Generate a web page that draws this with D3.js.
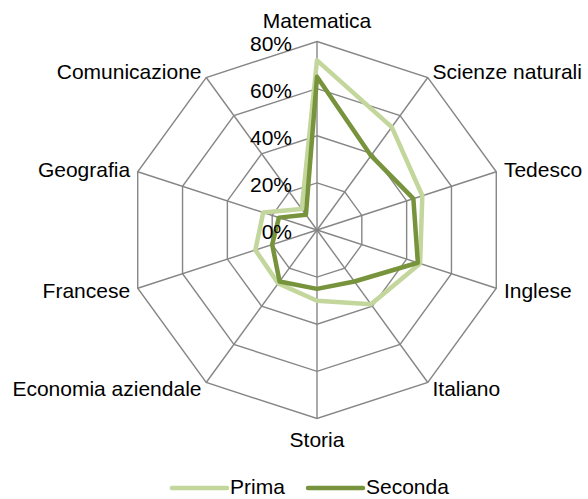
<!DOCTYPE html>
<html>
<head>
<meta charset="utf-8">
<script src="https://cdn.jsdelivr.net/npm/d3@7"></script>
<style>
  body { margin: 0; background: #fff; }
  text { font-family: "Liberation Sans", Arial, sans-serif; font-size: 21px; fill: #000; }
</style>
</head>
<body>
<div class="container"></div>
<script>
// data
const subjects = ['Matematica', 'Scienze naturali', 'Tedesco', 'Inglese', 'Italiano',
                  'Storia', 'Economia aziendale', 'Francese', 'Geografia', 'Comunicazione'];
const prima = [72, 54, 47, 46, 39, 30, 28, 27.5, 24, 11];
const seconda = [65, 39, 43, 45, 27, 25, 27, 20, 17, 8];
const ticks = [0, 20, 40, 60, 80];
const seriesNames = ['Prima', 'Seconda'];
const seriesColors = ['#c3d69b', '#77933c'];

const width = 588;
const height = 499;
const cx = 317;
const cy = 230;
const R = 188.5;

const svg = d3.select('.container')
    .append('svg')
    .attr('width', width)
    .attr('height', height);

const r = d3.scaleLinear().domain([0, 80]).range([0, R]);
const angle = d3.scalePoint().domain(subjects).range([0, 2 * Math.PI * (subjects.length - 1) / subjects.length]);

const pt = (subj, v) => {
    const a = angle(subj);
    return [cx + r(v) * Math.sin(a), cy - r(v) * Math.cos(a)];
};

// grid rings
ticks.filter(t => t > 0).forEach(t => {
    svg.append('polygon')
        .attr('points', subjects.map(s => pt(s, t).join(',')).join(' '))
        .attr('fill', 'none')
        .attr('stroke', '#868686')
        .attr('stroke-width', 1.4);
});

// spokes
svg.selectAll('line.spoke')
    .data(subjects)
    .enter()
    .append('line')
    .attr('class', 'spoke')
    .attr('x1', cx).attr('y1', cy)
    .attr('x2', d => pt(d, 80)[0])
    .attr('y2', d => pt(d, 80)[1])
    .attr('stroke', '#868686')
    .attr('stroke-width', 1.4);

// series
const line = d3.line().curve(d3.curveLinearClosed);
[prima, seconda].forEach((vals, i) => {
    svg.append('path')
        .attr('d', line(subjects.map((s, j) => pt(s, vals[j]))))
        .attr('fill', 'none')
        .attr('stroke', seriesColors[i])
        .attr('stroke-width', 4.5)
        .attr('stroke-linejoin', 'round');
});

// tick labels
svg.selectAll('text.tick')
    .data(ticks)
    .enter()
    .append('text')
    .attr('class', 'tick')
    .attr('x', cx - 25)
    .attr('y', d => cy - r(d) + 9)
    .attr('text-anchor', 'end')
    .text(d => d + '%');

// category labels
svg.selectAll('text.cat')
    .data(subjects)
    .enter()
    .append('text')
    .attr('class', 'cat')
    .each(function(d) {
        const a = angle(d);
        const [x, y] = pt(d, 80);
        const s = Math.sin(a), c = Math.cos(a);
        const el = d3.select(this);
        if (Math.abs(s) < 0.1) {
            el.attr('x', x).attr('text-anchor', 'middle')
              .attr('y', c > 0 ? y - 13.5 : y + 28);
        } else {
            el.attr('x', x + s * 8).attr('text-anchor', s > 0 ? 'start' : 'end')
              .attr('y', y - c * 8 + 7.5);
        }
    })
    .text(d => d);

// legend
const legend = svg.append('g');
const legendX = [172, 308];
seriesNames.forEach((name, i) => {
    legend.append('line')
        .attr('x1', legendX[i]).attr('x2', legendX[i] + 55)
        .attr('y1', 488).attr('y2', 488)
        .attr('stroke', seriesColors[i])
        .attr('stroke-width', 4.5)
        .attr('stroke-linecap', 'round');
    legend.append('text')
        .attr('x', legendX[i] + 58)
        .attr('y', 494)
        .text(name);
});
</script>
</body>
</html>
